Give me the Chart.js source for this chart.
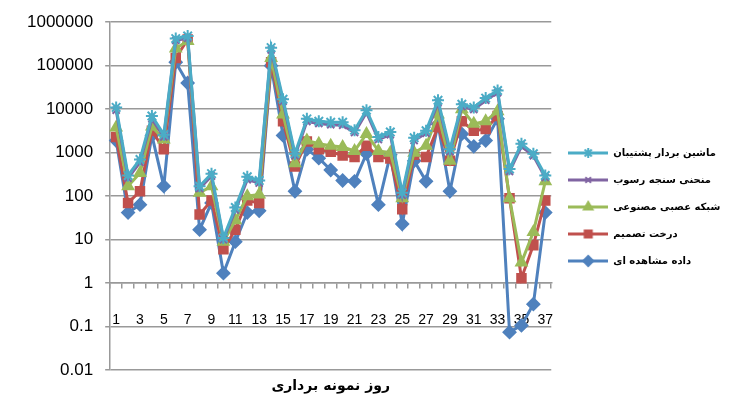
<!DOCTYPE html>
<html>
<head>
<meta charset="utf-8">
<script src="https://cdn.jsdelivr.net/npm/chart.js@4/dist/chart.umd.min.js"></script>
<style>
  html, body { margin: 0; padding: 0; background: #fff; }
  #c { display: block; }
</style>
</head>
<body>
<canvas id="c" width="730" height="400"></canvas>
<script>
	'use strict';

	// sampling days
	var days = ['1','2','3','4','5','6','7','8','9','10','11','12','13','14','15','16','17','18','19',
	            '20','21','22','23','24','25','26','27','28','29','30','31','32','33','34','35','36','37'];

	var yTicks = [0.01, 0.1, 1, 10, 100, 1000, 10000, 100000, 1000000];

	// ماشین بردار پشتیبان
	var svm = [11000, 300, 700, 7000, 2600, 420000, 480000, 170, 330, 11, 55, 280, 230, 260000, 17000, 950,
	           6000, 5300, 5000, 5000, 3300, 9500, 2300, 3000, 120, 2200, 3200, 16000, 1200, 13000, 11000,
	           18000, 27000, 420, 1600, 950, 300];
	// منحنی سنجه رسوب
	var ratingCurve = [9500, 260, 600, 6000, 2300, 380000, 430000, 150, 290, 10, 48, 240, 200, 230000, 15000, 850,
	                   5200, 4700, 4400, 4300, 2900, 8400, 2000, 2600, 105, 1900, 2800, 14000, 1050, 11500, 9800,
	                   16000, 24000, 370, 1400, 850, 270];
	// شبکه عصبی مصنوعی
	var ann = [3800, 170, 340, 4000, 2000, 250000, 370000, 120, 170, 9, 28, 100, 110, 150000, 7600, 570,
	           1900, 1600, 1450, 1350, 1100, 2700, 1100, 1000, 90, 1000, 1450, 7600, 650, 10000, 4600,
	           5300, 9000, 90, 3, 15, 220];
	// درخت تصمیم
	var tree = [2300, 70, 130, 3200, 1200, 150000, 400000, 38, 80, 6, 17, 80, 70, 120000, 5300, 480,
	            1800, 1200, 1050, 860, 800, 1450, 800, 740, 50, 900, 800, 3900, 650, 5300, 3200,
	            3500, 7000, 90, 1.3, 7.5, 80];
	// داده مشاهده ای
	var observed = [1900, 42, 64, 2500, 170, 120000, 40000, 17, 70, 1.7, 9, 42, 46, 100000, 2500, 130,
	                1200, 750, 400, 230, 220, 950, 64, 900, 23, 650, 220, 4500, 130, 2700, 1400,
	                1900, 6000, 0.075, 0.107, 0.33, 42];

	var fontLatin = 'Liberation Sans',
		fontFa    = 'DejaVu Sans';

	var series = [
		{ label: 'ماشین بردار پشتیبان', data: svm,         color: '#4bacc6', style: 'star',     r: 6 },
		{ label: 'منحنی سنجه رسوب',     data: ratingCurve, color: '#8064a2', style: 'crossRot', r: 5 },
		{ label: 'شبکه عصبی مصنوعی',    data: ann,         color: '#9bbb59', style: 'triangle', r: 6 },
		{ label: 'درخت تصمیم',          data: tree,        color: '#c0504d', style: 'rect',     r: 6 },
		{ label: 'داده مشاهده ای',       data: observed,    color: '#4f81bd', style: 'rectRot',  r: 6 }
	];

	// little line + marker picture for the legend, like excel does
	var legendPic = function(s) {
		var c = document.createElement('canvas');
		c.width = 40; c.height = 14;
		var ctx = c.getContext('2d');
		ctx.strokeStyle = s.color;
		ctx.lineWidth = 3;
		ctx.beginPath(); ctx.moveTo(0, 7); ctx.lineTo(40, 7); ctx.stroke();
		ctx.fillStyle = s.color;
		ctx.lineWidth = 2;
		Chart.helpers.drawPoint(ctx, { pointStyle: s.style, radius: s.r - 1, borderWidth: 2, rotation: 0 }, 20, 7);
		return c;
	};

	var datasets = series.map(function(s) {
		return {
			label: s.label,
			data: s.data,
			borderColor: s.color,
			backgroundColor: s.color,
			borderWidth: 3,
			pointStyle: s.style,
			pointRadius: s.r,
			pointBorderWidth: 2,
			pointBackgroundColor: s.color,
			pointBorderColor: s.color,
			tension: 0
		};
	});

	var chart = new Chart(document.getElementById('c').getContext('2d'), {
		type: 'line',
		data: { labels: days, datasets: datasets },
		options: {
			responsive: false,
			animation: false,
			devicePixelRatio: 1,
			layout: { padding: { left: 15, top: 15, right: 0, bottom: 1 } },
			scales: {
				x: {
					position: { y: 1 },
					offset: true,
					grid: { display: true, drawOnChartArea: false, drawTicks: true, tickLength: 5, color: '#999', lineWidth: 1.5, offset: true },
					border: { display: true, color: '#999', width: 1.5 },
					ticks: {
						autoSkip: false, maxRotation: 0, minRotation: 0, padding: 24,
						color: '#000', font: { family: fontLatin, size: 14 },
						callback: function(v, i) { return i % 2 === 0 ? days[i] : ''; }
					},
					afterFit: function(scale) { scale.height = 0; }
				},
				y: {
					type: 'logarithmic',
					min: 0.01,
					max: 1000000,
					afterBuildTicks: function(scale) {
						scale.ticks = yTicks.map(function(v) { return { value: v, major: false }; });
					},
					grid: { color: '#999', lineWidth: 1.5, tickLength: 5 },
					border: { display: true, color: '#999', width: 1.5 },
					ticks: {
						padding: 12, color: '#000', font: { family: fontLatin, size: 17 },
						callback: function(v) { return String(v); }
					}
				}
			},
			plugins: {
				tooltip: { enabled: false },
				title: {
					display: true,
					position: 'bottom',
					fullSize: false,
					text: 'روز نمونه برداری',
					color: '#000',
					font: { family: fontFa, size: 14, weight: 'bold' },
					padding: { top: 8, bottom: 4 }
				},
				legend: {
					position: 'right',
					align: 'center',
					labels: {
						usePointStyle: true,
						pointStyleWidth: 40,
						boxHeight: 14,
						padding: 17,
						color: '#000',
						font: { family: fontFa, size: 10, weight: 'bold' },
						generateLabels: function(ch) {
							return series.map(function(s, i) {
								return {
									text: s.label,
									pointStyle: legendPic(s),
									fillStyle: s.color,
									strokeStyle: s.color,
									lineWidth: 0,
									fontColor: '#000',
									hidden: false,
									datasetIndex: i
								};
							});
						}
					}
				}
			}
		}
	});
</script>
</body>
</html>
